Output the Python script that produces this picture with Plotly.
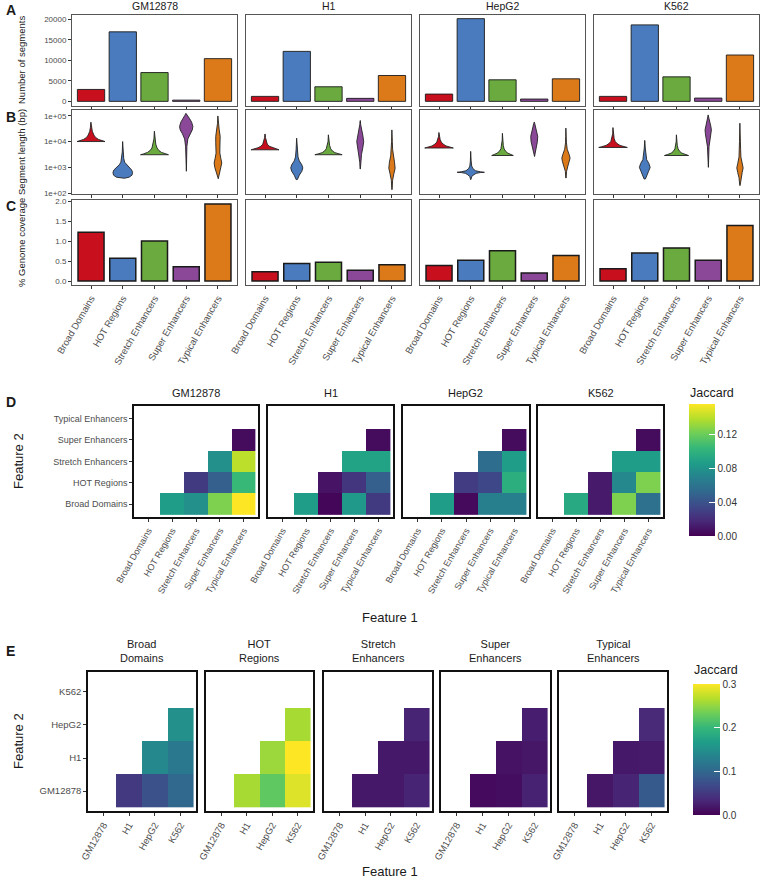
import plotly.graph_objects as go

W, H = 762, 881
FONT = "Liberation Sans, Arial, sans-serif"

FEATURES = ["Broad Domains", "HOT Regions", "Stretch Enhancers", "Super Enhancers", "Typical Enhancers"]
CELLS = ["GM12878", "H1", "HepG2", "K562"]
FEATURE_COLORS = ["#C80F1E", "#4A7BBF", "#6AAA3F", "#8B4899", "#DC7A1A"]

# Panel A: number of segments
SEG_GM12878 = [2900, 16930, 7010, 300, 10400]
SEG_H1 = [1210, 12170, 3550, 730, 6300]
SEG_HEPG2 = [1770, 20140, 5250, 560, 5490]
SEG_K562 = [1210, 18620, 5970, 800, 11290]
SEG_TICKS = [0, 5000, 10000, 15000, 20000]

# Panel C: % genome coverage
COV_GM12878 = [1.22, 0.57, 1.00, 0.36, 1.93]
COV_H1 = [0.23, 0.44, 0.47, 0.27, 0.41]
COV_HEPG2 = [0.39, 0.52, 0.76, 0.20, 0.64]
COV_K562 = [0.31, 0.70, 0.83, 0.52, 1.39]
COV_TICKS = [0, 0.5, 1, 1.5, 2]

# Panel B: violin outlines (log10 segment length, half width of density)
VIOLIN_GM12878 = {
    "Broad Domains": ([4.0, 4.03, 4.08, 4.15, 4.25, 4.4, 4.55, 4.75], [0.44, 0.36, 0.24, 0.15, 0.09, 0.04, 0.02, 0.005]),
    "HOT Regions": ([2.58, 2.62, 2.7, 2.8, 2.9, 3.0, 3.1, 3.2, 3.35, 3.6, 4.0], [0.05, 0.2, 0.29, 0.31, 0.28, 0.2, 0.11, 0.06, 0.03, 0.015, 0.004]),
    "Stretch Enhancers": ([3.49, 3.52, 3.58, 3.65, 3.75, 3.9, 4.1, 4.4], [0.44, 0.35, 0.22, 0.14, 0.08, 0.04, 0.018, 0.004]),
    "Super Enhancers": ([2.85, 3.3, 3.8, 4.1, 4.3, 4.45, 4.58, 4.75, 4.9, 5.0, 5.09], [0.005, 0.01, 0.02, 0.05, 0.12, 0.19, 0.21, 0.17, 0.1, 0.05, 0.01]),
    "Typical Enhancers": ([2.56, 2.8, 3.0, 3.17, 3.35, 3.55, 3.75, 3.95, 4.2, 4.45, 4.7, 4.99], [0.01, 0.05, 0.1, 0.12, 0.09, 0.06, 0.06, 0.07, 0.07, 0.04, 0.015, 0.003]),
}
VIOLIN_H1 = {
    "Broad Domains": ([3.68, 3.71, 3.76, 3.82, 3.9, 4.0, 4.15, 4.29], [0.44, 0.36, 0.22, 0.13, 0.07, 0.04, 0.015, 0.004]),
    "HOT Regions": ([2.53, 2.7, 2.85, 2.98, 3.1, 3.25, 3.4, 3.7, 4.13], [0.02, 0.08, 0.16, 0.19, 0.16, 0.08, 0.04, 0.02, 0.004]),
    "Stretch Enhancers": ([3.49, 3.52, 3.57, 3.64, 3.72, 3.85, 4.0, 4.26], [0.43, 0.33, 0.2, 0.12, 0.07, 0.035, 0.015, 0.004]),
    "Super Enhancers": ([2.94, 3.2, 3.5, 3.75, 4.0, 4.25, 4.45, 4.65, 4.81], [0.005, 0.015, 0.04, 0.08, 0.11, 0.08, 0.04, 0.015, 0.003]),
    "Typical Enhancers": ([2.14, 2.5, 2.75, 2.97, 3.2, 3.45, 3.7, 4.0, 4.45], [0.005, 0.02, 0.06, 0.1, 0.08, 0.04, 0.02, 0.012, 0.003]),
}
VIOLIN_HEPG2 = {
    "Broad Domains": ([3.75, 3.78, 3.83, 3.9, 3.98, 4.08, 4.2, 4.35], [0.45, 0.36, 0.22, 0.13, 0.07, 0.035, 0.015, 0.004]),
    "HOT Regions": ([2.53, 2.65, 2.72, 2.77, 2.8, 2.81, 2.83, 2.87, 2.95, 3.05, 3.25, 3.62], [0.005, 0.03, 0.1, 0.17, 0.3, 0.43, 0.3, 0.15, 0.07, 0.03, 0.012, 0.003]),
    "Stretch Enhancers": ([3.46, 3.5, 3.55, 3.62, 3.72, 3.85, 4.05, 4.32], [0.34, 0.26, 0.17, 0.1, 0.05, 0.025, 0.01, 0.003]),
    "Super Enhancers": ([3.42, 3.6, 3.8, 4.0, 4.2, 4.4, 4.55, 4.7, 4.75], [0.01, 0.04, 0.07, 0.1, 0.11, 0.08, 0.05, 0.015, 0.003]),
    "Typical Enhancers": ([2.59, 2.85, 3.05, 3.22, 3.36, 3.5, 3.7, 3.95, 4.2, 4.52], [0.005, 0.02, 0.06, 0.11, 0.13, 0.1, 0.04, 0.015, 0.008, 0.003]),
}
VIOLIN_K562 = {
    "Broad Domains": ([3.77, 3.8, 3.85, 3.92, 4.0, 4.12, 4.3, 4.54], [0.45, 0.36, 0.22, 0.13, 0.07, 0.035, 0.012, 0.003]),
    "HOT Regions": ([2.55, 2.7, 2.85, 3.0, 3.15, 3.3, 3.5, 3.75, 4.04], [0.02, 0.08, 0.12, 0.17, 0.13, 0.06, 0.03, 0.015, 0.003]),
    "Stretch Enhancers": ([3.46, 3.5, 3.55, 3.62, 3.72, 3.85, 4.0, 4.26], [0.38, 0.28, 0.17, 0.1, 0.05, 0.025, 0.01, 0.003]),
    "Super Enhancers": ([3.0, 3.4, 3.8, 4.1, 4.3, 4.45, 4.6, 4.8, 4.95, 5.03], [0.005, 0.01, 0.025, 0.06, 0.09, 0.1, 0.08, 0.04, 0.015, 0.003]),
    "Typical Enhancers": ([2.3, 2.6, 2.8, 2.98, 3.15, 3.4, 3.7, 4.0, 4.3, 4.71], [0.005, 0.03, 0.07, 0.1, 0.07, 0.03, 0.02, 0.015, 0.01, 0.003]),
}

# Panel D: Jaccard between features (Feature 1, Feature 2)
D_PAIRS = [("HOT Regions", "Broad Domains"), ("Stretch Enhancers", "Broad Domains"),
           ("Super Enhancers", "Broad Domains"), ("Typical Enhancers", "Broad Domains"),
           ("Stretch Enhancers", "HOT Regions"), ("Super Enhancers", "HOT Regions"),
           ("Typical Enhancers", "HOT Regions"), ("Super Enhancers", "Stretch Enhancers"),
           ("Typical Enhancers", "Stretch Enhancers"), ("Typical Enhancers", "Super Enhancers")]
JAC_D_GM12878 = [0.086, 0.078, 0.125, 0.156, 0.027, 0.047, 0.105, 0.078, 0.140, 0.005]
JAC_D_H1 = [0.086, 0.002, 0.083, 0.027, 0.008, 0.024, 0.047, 0.090, 0.090, 0.005]
JAC_D_HEPG2 = [0.086, 0.004, 0.067, 0.067, 0.028, 0.034, 0.098, 0.055, 0.086, 0.005]
JAC_D_K562 = [0.094, 0.011, 0.125, 0.058, 0.011, 0.073, 0.125, 0.086, 0.086, 0.005]

# Panel E: Jaccard between cell lines (Feature 1, Feature 2)
E_PAIRS = [("H1", "GM12878"), ("HepG2", "GM12878"), ("K562", "GM12878"),
           ("HepG2", "H1"), ("K562", "H1"), ("K562", "HepG2")]
E_TITLES = ["Broad<br>Domains", "HOT<br>Regions", "Stretch<br>Enhancers", "Super<br>Enhancers", "Typical<br>Enhancers"]
JAC_E_BROAD = [0.050, 0.075, 0.100, 0.140, 0.120, 0.150]
JAC_E_HOT = [0.260, 0.225, 0.285, 0.255, 0.300, 0.260]
JAC_E_STRETCH = [0.020, 0.020, 0.030, 0.020, 0.020, 0.030]
JAC_E_SUPER = [0.008, 0.010, 0.028, 0.015, 0.018, 0.025]
JAC_E_TYPICAL = [0.018, 0.030, 0.085, 0.020, 0.022, 0.035]

SEGMENTS = [SEG_GM12878, SEG_H1, SEG_HEPG2, SEG_K562]
COVERAGE = [COV_GM12878, COV_H1, COV_HEPG2, COV_K562]
VIOLINS = [VIOLIN_GM12878, VIOLIN_H1, VIOLIN_HEPG2, VIOLIN_K562]
JAC_D = [JAC_D_GM12878, JAC_D_H1, JAC_D_HEPG2, JAC_D_K562]
JAC_E = [JAC_E_BROAD, JAC_E_HOT, JAC_E_STRETCH, JAC_E_SUPER, JAC_E_TYPICAL]


def xd(a, b):
    return [a / W, b / W]


def yd(top, bottom):
    return [1 - bottom / H, 1 - top / H]


layout = {}
count = [0]


def add_axes(xdom, ydom, xcfg, ycfg):
    count[0] += 1
    s = "" if count[0] == 1 else str(count[0])
    layout["xaxis" + s] = dict(domain=xdom, anchor="y" + s, **xcfg)
    layout["yaxis" + s] = dict(domain=ydom, anchor="x" + s, **ycfg)
    return "x" + s, "y" + s


TICKFONT = dict(size=8, color="#4D4D4D", family=FONT)
GREY_FRAME = dict(showline=True, mirror=True, linecolor="#555555", linewidth=1,
                  showgrid=False, zeroline=False, tickfont=TICKFONT, automargin=False)
BLACK_FRAME = dict(showline=True, mirror=True, linecolor="#111111", linewidth=1.6, automargin=False,
                   showgrid=False, zeroline=False, tickfont=dict(size=9, color="#4D4D4D", family=FONT))

A_X = [(72, 237), (246, 411), (420, 585), (594, 759)]
fig = go.Figure()
annotations = []


def ann(text, x, y, size, bold=False, angle=0, xanchor="center", yanchor="middle", color="#1a1a1a"):
    annotations.append(dict(text=("<b>%s</b>" % text) if bold else text, x=x / W, y=1 - y / H,
                            xref="paper", yref="paper", showarrow=False, textangle=angle,
                            xanchor=xanchor, yanchor=yanchor,
                            font=dict(size=size, family=FONT, color=color)))


for ci, cell in enumerate(CELLS):
    x0, x1 = A_X[ci]
    first = ci == 0
    xbase = dict(GREY_FRAME, range=[-0.6, 4.6], tickvals=list(range(5)), ticks="outside",
                 ticklen=3, tickcolor="#333333")
    ybase = dict(GREY_FRAME, ticks="outside" if first else "", ticklen=3, tickcolor="#333333",
                 showticklabels=first)
    # A
    xa, ya = add_axes(xd(x0, x1), yd(14.5, 105.5), dict(xbase, showticklabels=False),
                      dict(ybase, range=[-1007, 21150], tickvals=SEG_TICKS,
                           ticktext=[str(t) for t in SEG_TICKS]))
    fig.add_trace(go.Bar(x=list(range(5)), y=SEGMENTS[ci], width=0.86, xaxis=xa, yaxis=ya,
                         marker=dict(color=FEATURE_COLORS, line=dict(color="#1a1a1a", width=0.9))))
    # B
    xb, yb = add_axes(xd(x0, x1), yd(110, 193.5), dict(xbase, showticklabels=False),
                      dict(ybase, type="log", range=[1.99, 5.22], tickvals=[100, 1000, 10000, 100000],
                           ticktext=["1e+02", "1e+03", "1e+04", "1e+05"]))
    for fi, feat in enumerate(FEATURES):
        logs, widths = VIOLINS[ci][feat]
        xs = [fi + w for w in widths] + [fi - w for w in widths[::-1]]
        ys = [10 ** v for v in logs] + [10 ** v for v in logs[::-1]]
        xs.append(xs[0])
        ys.append(ys[0])
        fig.add_trace(go.Scatter(x=xs, y=ys, mode="lines", fill="toself", fillcolor=FEATURE_COLORS[fi],
                                 line=dict(color="#222222", width=0.9), xaxis=xb, yaxis=yb,
                                 hoverinfo="skip"))
    # C
    xc, yc = add_axes(xd(x0, x1), yd(200, 285),
                      dict(xbase, ticktext=FEATURES, tickangle=-60,
                           tickfont=dict(size=9.5, color="#4D4D4D", family=FONT)),
                      dict(ybase, range=[-0.1, 2.03], tickvals=COV_TICKS,
                           ticktext=["%.1f" % t for t in COV_TICKS]))
    fig.add_trace(go.Bar(x=list(range(5)), y=COVERAGE[ci], width=0.82, xaxis=xc, yaxis=yc,
                         marker=dict(color=FEATURE_COLORS, line=dict(color="#1a1a1a", width=1.5))))
    ann(cell, (x0 + x1) / 2, 6, 10.5)

ann("Number of segments", 21, 60, 9.5, angle=-90)
ann("Segment length (bp)", 21, 152, 9.5, angle=-90)
ann("% Genome coverage", 21, 243, 9.5, angle=-90)
ann("A", 4, 10, 14, bold=True, xanchor="left")
ann("B", 4, 117, 14, bold=True, xanchor="left")
ann("C", 4, 206, 14, bold=True, xanchor="left")

# D
D_X = [(134, 258), (268, 393), (403, 529), (538, 663)]
for ci, cell in enumerate(CELLS):
    x0, x1 = D_X[ci]
    z = [[None] * 5 for _ in range(5)]
    for (f1, f2), v in zip(D_PAIRS, JAC_D[ci]):
        z[FEATURES.index(f2)][FEATURES.index(f1)] = v
    first = ci == 0
    xdd, ydd = add_axes(xd(x0, x1), yd(405.7, 517),
                        dict(BLACK_FRAME, type="category", categoryorder="array", categoryarray=FEATURES,
                             range=[-0.6, 4.6], tickangle=-60, ticks="outside", ticklen=3, tickcolor="#333333"),
                        dict(BLACK_FRAME, type="category", categoryorder="array", categoryarray=FEATURES,
                             range=[-0.6, 4.6], ticks="outside" if first else "", ticklen=3,
                             tickcolor="#333333", showticklabels=first))
    fig.add_trace(go.Heatmap(x=FEATURES, y=FEATURES, z=z, coloraxis="coloraxis", xaxis=xdd, yaxis=ydd,
                             hoverongaps=False))
    ann(cell, (x0 + x1) / 2, 393, 11)

ann("D", 4, 402, 14, bold=True, xanchor="left")
ann("Feature 2", 18, 461, 13, angle=-90)
ann("Feature 1", 390, 617, 13)
ann("Jaccard", 688, 393, 12.5, xanchor="left")

# E
E_X = [(88, 196), (206, 313), (324, 432), (441, 550), (559, 667)]
for fi in range(5):
    x0, x1 = E_X[fi]
    z = [[None] * 4 for _ in range(4)]
    for (c1, c2), v in zip(E_PAIRS, JAC_E[fi]):
        z[CELLS.index(c2)][CELLS.index(c1)] = v
    first = fi == 0
    xe, ye = add_axes(xd(x0, x1), yd(672, 811),
                      dict(BLACK_FRAME, type="category", categoryorder="array", categoryarray=CELLS,
                           range=[-0.6, 3.6], tickangle=-60, ticks="outside", ticklen=3, tickcolor="#333333",
                           tickfont=dict(size=9.5, color="#4D4D4D", family=FONT)),
                      dict(BLACK_FRAME, type="category", categoryorder="array", categoryarray=CELLS,
                           range=[-0.6, 3.6], ticks="outside" if first else "", ticklen=3,
                           tickcolor="#333333", showticklabels=first,
                           tickfont=dict(size=9.5, color="#4D4D4D", family=FONT)))
    fig.add_trace(go.Heatmap(x=CELLS, y=CELLS, z=z, coloraxis="coloraxis2", xaxis=xe, yaxis=ye,
                             hoverongaps=False))
    ann(E_TITLES[fi], (x0 + x1) / 2, 651, 11)

ann("E", 4, 651, 14, bold=True, xanchor="left")
ann("Feature 2", 18, 741, 13, angle=-90)
ann("Feature 1", 390, 871, 13)
ann("Jaccard", 692, 670, 12.5, xanchor="left")

cb_common = dict(thicknessmode="pixels", lenmode="pixels", xanchor="left", yanchor="top",
                 xpad=0, ypad=0, outlinewidth=0, ticks="inside", ticklen=6, tickcolor="white",
                 tickfont=dict(size=10, color="#333333", family=FONT))

layout.update(
    width=W, height=H, margin=dict(l=0, r=0, t=0, b=0, autoexpand=False),
    paper_bgcolor="white", plot_bgcolor="white", showlegend=False,
    font=dict(family=FONT),
    annotations=annotations,
    coloraxis=dict(colorscale="Viridis", cmin=0, cmax=0.156,
                   colorbar=dict(cb_common, x=689 / W, y=1 - 404.3 / H, len=131.5, thickness=26,
                                 tickvals=[0, 0.04, 0.08, 0.12], ticktext=["0.00", "0.04", "0.08", "0.12"])),
    coloraxis2=dict(colorscale="Viridis", cmin=0, cmax=0.30,
                    colorbar=dict(cb_common, x=693 / W, y=1 - 684 / H, len=131, thickness=27,
                                  tickvals=[0, 0.1, 0.2, 0.3], ticktext=["0.0", "0.1", "0.2", "0.3"])),
)
fig.update_layout(**layout)
fig.write_html("out.html", config={"displayModeBar": False},
               post_script="document.body.style.margin='0';document.body.style.overflow='hidden';")
